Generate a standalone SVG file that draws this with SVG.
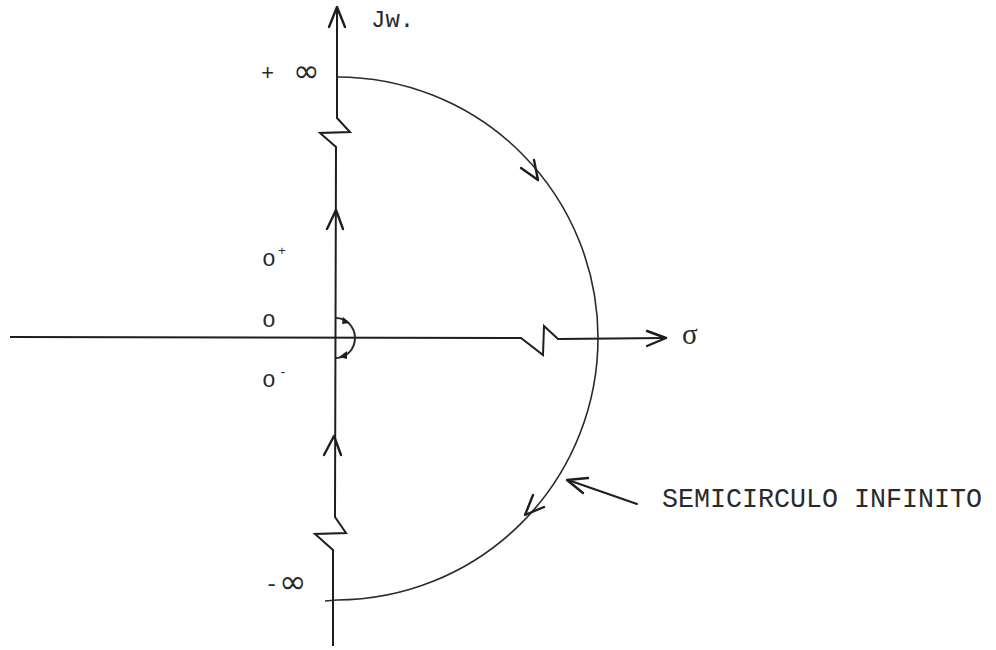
<svg xmlns="http://www.w3.org/2000/svg" width="996" height="650" viewBox="0 0 996 650">
<style>
.ax{fill:none;stroke:#1e1e1e;stroke-width:2;stroke-linejoin:miter}
.arc{fill:none;stroke:#2a2a2a;stroke-width:1.6}
.ah{fill:none;stroke:#1e1e1e;stroke-width:2.4;stroke-linecap:round;stroke-linejoin:round}
.t{font-family:"Liberation Mono","DejaVu Sans Mono",monospace;fill:#2a2a2a}
.inf{font-family:"DejaVu Sans",sans-serif;fill:#2a2a2a}
</style>
<rect width="996" height="650" fill="#ffffff"/>
<g id="connectors">
<path class="ax" d="M337,6 L337,118 L350,132 L320,133 L336,147 L335,517 L346,533 L315,534 L333,550 L333,646"/>
<path class="ah" d="M329,27 L337,7 L345,27"/>
<path class="ax" d="M10,337 L521,338 L543,355 L544,326 L558,339 L665,338"/>
<path class="ah" d="M647,331 L666,338 L647,346"/>
<path class="ah" d="M327,229 L336,210 L343,229"/>
<path class="ah" d="M324,455 L334,436 L341,455"/>
<path class="arc" d="M337,77 A261,261 0 0 1 598,338 A262,262 0 0 1 337,600"/>
<path class="arc" d="M325,601 L337,600"/>
<path class="ah" d="M521,168 L538,180 L534,160"/>
<path class="ah" d="M533,495 L525,515 L544,507"/>
<path class="arc" style="stroke-width:2" d="M336,318 A19,20 0 0 1 336,358"/>
<path d="M343,317 L350,323 L342,324 Z" fill="#1e1e1e"/>
<path d="M339,357 L347,351 L347,359 Z" fill="#1e1e1e"/>
<path class="ah" style="stroke-width:2" d="M637,504 L568,480"/>
<path class="ah" d="M588,478 L567,480 L583,493"/>
</g>
<g id="label-jw"><text class="t" x="371" y="27" font-size="24">Jw.</text></g>
<g id="label-plus-inf"><text class="t" x="261" y="80" font-size="22">+ <tspan class="inf" x="293" y="82" font-size="32">∞</tspan></text></g>
<g id="label-minus-inf"><text class="t" x="265" y="591" font-size="22">-<tspan class="inf" x="279" y="593" font-size="33">∞</tspan></text></g>
<g id="label-0plus"><text class="t" x="262" y="266" font-size="23">o</text><text class="t" x="278" y="255" font-size="13">+</text></g>
<g id="label-0"><text class="t" x="262" y="327" font-size="23">o</text></g>
<g id="label-0minus"><text class="t" x="262" y="387" font-size="23">o</text><text class="t" x="279" y="376" font-size="13">-</text></g>
<g id="label-sigma"><text x="682" y="344" font-family="Liberation Serif,serif" font-size="29" fill="#2a2a2a">σ</text></g>
<g id="label-semicirculo"><text class="t" x="662" y="507" font-size="27" textLength="320" lengthAdjust="spacingAndGlyphs">SEMICIRCULO INFINITO</text></g>
</svg>
